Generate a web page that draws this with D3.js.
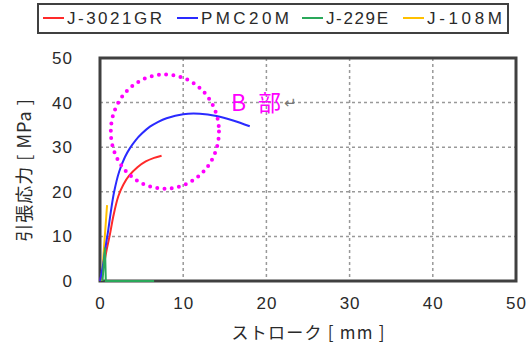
<!DOCTYPE html>
<html><head><meta charset="utf-8">
<script src="https://cdn.jsdelivr.net/npm/d3@7"></script>
<style>body{margin:0;background:#fff}</style>
</head><body>
<svg id="c" width="531" height="349"></svg>
<script>
const seriesNames = ["J-3021GR", "PMC20M", "J-229E", "J-108M"];
const seriesColors = ["#ff2a2a", "#2a2aff", "#2aa85a", "#ffc000"];
const redX = [0, 0.5, 0.8, 1.2, 1.6, 2.2, 2.8, 3.5, 4.5, 5.5, 6.5, 7.4];
const redY = [0, 4, 7, 10.5, 14.5, 19, 21.6, 23.6, 25.5, 26.8, 27.6, 28.1];
const blueX = [0, 0.4, 0.7, 1.0, 1.3, 1.7, 2.3, 3.0, 3.6, 4.3, 5, 6, 7, 8, 10, 12, 14, 16, 18];
const blueY = [0, 4, 8, 11.5, 15.5, 20, 24.5, 27.8, 29.8, 31.6, 33, 34.6, 35.7, 36.5, 37.4, 37.5, 37, 36, 34.7];
const greenX = [0.3, 0.6, 0.7, 6.5];
const greenY = [0, 7.5, 0, 0];
const yellowX = [0.2, 0.5, 0.85];
const yellowY = [0, 8, 17];
const xTicks = [0, 10, 20, 30, 40, 50];
const yTicks = [0, 10, 20, 30, 40, 50];
const xTitle = "ストローク [ mm ]";
const yTitle = "引張応力 [ MPa ]";
const noteText = "B 部";
const noteCenter = [7.8, 33.5];
const noteRadius = [6.5, 12.8];

const svg = d3.select("#c");
const L = 100, R = 516, T = 58, B = 281;
const x = d3.scaleLinear().domain([0, 50]).range([L, R]);
const y = d3.scaleLinear().domain([0, 50]).range([B, T]);
const font = "'Liberation Sans', Arial, 'Noto Sans CJK JP', sans-serif";
const jfont = "'Noto Sans CJK JP', 'Liberation Sans', sans-serif";

// grid
svg.append("g").selectAll("line").data(xTicks.slice(1, -1)).join("line")
  .attr("x1", d => x(d)).attr("x2", d => x(d)).attr("y1", T).attr("y2", B)
  .attr("stroke", "#999").attr("stroke-width", 1.5).attr("stroke-dasharray", "3,3");
svg.append("g").selectAll("line").data(yTicks.slice(1, -1)).join("line")
  .attr("y1", d => y(d)).attr("y2", d => y(d)).attr("x1", L).attr("x2", R)
  .attr("stroke", "#999").attr("stroke-width", 1.5).attr("stroke-dasharray", "3,3");

// axes tick labels via d3 axes
const xAxis = svg.append("g").attr("transform", `translate(0,${B})`)
  .call(d3.axisBottom(x).tickValues(xTicks).tickSize(0).tickPadding(16).tickFormat(d3.format("d")));
const yAxis = svg.append("g").attr("transform", `translate(${L},0)`)
  .call(d3.axisLeft(y).tickValues(yTicks).tickSize(0).tickPadding(27).tickFormat(d3.format("d")));
[xAxis, yAxis].forEach(a => {
  a.select(".domain").remove();
  a.selectAll("text").attr("font-family", font).attr("font-size", 17).attr("fill", "#2a2a2a").attr("letter-spacing", 1);
});

// frame
svg.append("rect").attr("x", L).attr("y", T).attr("width", R - L).attr("height", B - T)
  .attr("fill", "none").attr("stroke", "#404040").attr("stroke-width", 3);

// series
const lineL = d3.line().x(d => x(d[0])).y(d => y(d[1]));
const lineC = d3.line().x(d => x(d[0])).y(d => y(d[1])).curve(d3.curveCatmullRom);
const data = [
  d3.zip(redX, redY), d3.zip(blueX, blueY), d3.zip(greenX, greenY), d3.zip(yellowX, yellowY)
];
svg.append("path").attr("d", lineL(data[3])).attr("fill", "none").attr("stroke", seriesColors[3]).attr("stroke-width", 2);
svg.append("path").attr("d", lineC(data[0])).attr("fill", "none").attr("stroke", seriesColors[0]).attr("stroke-width", 2);
svg.append("path").attr("d", lineC(data[1])).attr("fill", "none").attr("stroke", seriesColors[1]).attr("stroke-width", 2);
svg.append("path").attr("d", lineL(data[2])).attr("fill", "none").attr("stroke", seriesColors[2]).attr("stroke-width", 2);

// annotation ellipse
svg.append("ellipse")
  .attr("cx", x(noteCenter[0])).attr("cy", y(noteCenter[1]))
  .attr("rx", x(noteRadius[0]) - x(0)).attr("ry", y(0) - y(noteRadius[1]))
  .attr("fill", "none").attr("stroke", "#ff00ff").attr("stroke-width", 4)
  .attr("stroke-linecap", "round").attr("stroke-dasharray", "0,7.3");
svg.append("text").attr("x", 231).attr("y", 111).attr("font-family", jfont).attr("font-size", 23)
  .attr("fill", "#ff00ff").attr("textLength", 50).attr("lengthAdjust", "spacing").text(noteText);
svg.append("text").attr("x", 284).attr("y", 108).attr("font-family", "'DejaVu Sans', sans-serif").attr("font-size", 15)
  .attr("fill", "#777").text("↵");

// titles
svg.append("text").attr("x", 308).attr("y", 339).attr("text-anchor", "middle")
  .attr("font-family", jfont).attr("font-size", 17).attr("fill", "#2a2a2a")
  .attr("textLength", 153).attr("lengthAdjust", "spacing").text(xTitle);
svg.append("text").attr("transform", "translate(31,170) rotate(-90)").attr("text-anchor", "middle")
  .attr("font-family", jfont).attr("font-size", 18).attr("fill", "#2a2a2a")
  .attr("letter-spacing", 1).text(yTitle);

// legend
svg.append("rect").attr("x", 38).attr("y", 4).attr("width", 470).attr("height", 29)
  .attr("fill", "#fff").attr("stroke", "#404040").attr("stroke-width", 2);
const legX = [43, 177, 302, 403];
const legW = [95, 88, 62, 75];
seriesNames.forEach((n, i) => {
  svg.append("line").attr("x1", legX[i]).attr("x2", legX[i] + 21).attr("y1", 18).attr("y2", 18)
    .attr("stroke", seriesColors[i]).attr("stroke-width", 2);
  svg.append("text").attr("x", legX[i] + 24).attr("y", 24).attr("font-family", font).attr("font-size", 17)
    .attr("fill", "#2a2a2a").attr("textLength", legW[i]).attr("lengthAdjust", "spacing").text(n);
});
</script>
</body></html>
